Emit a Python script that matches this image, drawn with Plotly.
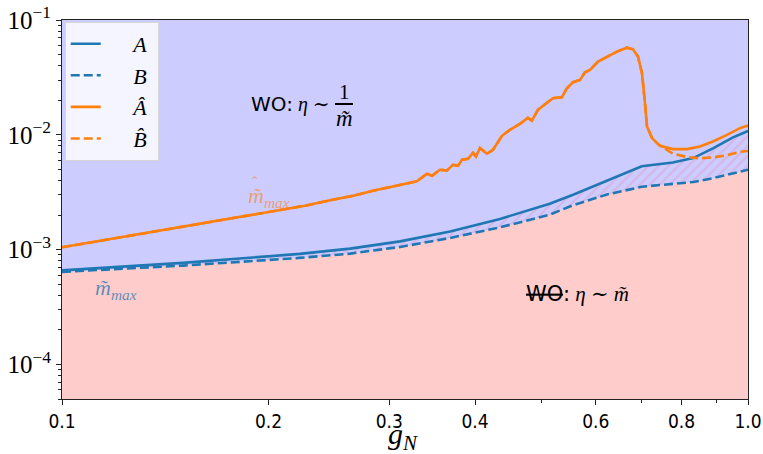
import math
import plotly.graph_objects as go

# ---------------- data ----------------
G_BLUE = [0.10, 0.15, 0.222, 0.263, 0.311, 0.368, 0.435, 0.514, 0.556, 0.623, 0.70, 0.777, 0.832, 0.889, 0.951, 1.0]
A_VALS = [6.6e-4, 7.66e-4, 9.18e-4, 1.02e-3, 1.18e-3, 1.44e-3, 1.85e-3, 2.51e-3, 3.01e-3, 3.96e-3, 5.32e-3, 5.74e-3, 6.27e-3, 7.63e-3, 9.5e-3, 1.08e-2]
B_VALS = [6.4e-4, 7.26e-4, 8.47e-4, 9.23e-4, 1.055e-3, 1.264e-3, 1.563e-3, 2.015e-3, 2.44e-3, 3.02e-3, 3.53e-3, 3.75e-3, 3.88e-3, 4.19e-3, 4.63e-3, 4.96e-3]

G_HAT = [0.100, 0.150, 0.188, 0.226, 0.248, 0.266, 0.284, 0.311, 0.329, 0.3405, 0.3463, 0.3556,
         0.3641, 0.3715, 0.3778, 0.3829, 0.3907, 0.3973, 0.4013, 0.4067, 0.4164, 0.4249, 0.4379,
         0.4498, 0.4650, 0.4777, 0.4841, 0.4940, 0.5093, 0.5196, 0.5355, 0.5445, 0.5557, 0.5690,
         0.5786, 0.5885, 0.6044, 0.6230, 0.6442, 0.6661, 0.6798, 0.6913, 0.7006, 0.7077, 0.7125,
         0.7246, 0.7442, 0.7774, 0.8150, 0.8511, 0.8892, 0.9319, 0.9735, 1.0]
AHAT_VALS = [1.047e-3, 1.588e-3, 2.0e-3, 2.41e-3, 2.72e-3, 2.95e-3, 3.26e-3, 3.67e-3, 3.93e-3, 4.58e-3, 4.40e-3, 4.96e-3,
             4.89e-3, 5.48e-3, 5.37e-3, 6.06e-3, 6.18e-3, 6.97e-3, 6.48e-3, 7.66e-3, 6.84e-3, 7.41e-3, 9.80e-3,
             1.105e-2, 1.246e-2, 1.405e-2, 1.331e-2, 1.65e-2, 1.897e-2, 2.085e-2, 2.127e-2, 2.547e-2, 2.872e-2, 3.007e-2,
             3.51e-2, 3.674e-2, 4.34e-2, 4.80e-2, 5.30e-2, 5.74e-2, 5.56e-2, 4.80e-2, 3.44e-2, 1.886e-2, 1.181e-2,
             9.36e-3, 8.02e-3, 7.51e-3, 7.51e-3, 7.91e-3, 8.74e-3, 1.0e-2, 1.144e-2, 1.205e-2]
N_SHARED = 46  # B-hat coincides with A-hat for the first points
G_BHAT_TAIL = [0.7392, 0.7774, 0.8150, 0.8511, 0.8892, 0.9319, 0.9735, 1.0]
BHAT_TAIL = [8.3e-3, 6.84e-3, 6.40e-3, 6.25e-3, 6.35e-3, 6.64e-3, 7.12e-3, 7.22e-3]
G_BHAT = G_HAT[:N_SHARED] + G_BHAT_TAIL
BHAT_VALS = AHAT_VALS[:N_SHARED] + BHAT_TAIL

X_RANGE = [0.1, 1.0]
Y_RANGE = [5e-5, 1e-1]
XTICKS = [0.1, 0.2, 0.3, 0.4, 0.6, 0.8, 1.0]
XTICKTEXT = ["0.1", "0.2", "0.3", "0.4", "0.6", "0.8", "1.0"]
XMINOR = [0.5, 0.7, 0.9]
YTICKS = [1e-4, 1e-3, 1e-2, 1e-1]
YTICKTEXT = ["10<sup>−4</sup>", "10<sup>−3</sup>", "10<sup>−2</sup>", "10<sup>−1</sup>"]

BLUE = "#1f77b4"
ORANGE = "#ff7f0e"
LAVENDER = "#ccccff"
PINK = "#ffcccc"
SERIF = "Liberation Serif, DejaVu Serif, serif"
NB = "\u00a0"

fig = go.Figure()

# pink region below B (down to the axis floor)
fig.add_trace(go.Scatter(x=G_BLUE, y=[Y_RANGE[0]] * len(G_BLUE), mode="lines",
                         line=dict(width=0), showlegend=False, hoverinfo="skip"))
fig.add_trace(go.Scatter(x=G_BLUE, y=B_VALS, mode="lines", line=dict(width=0),
                         fill="tonexty", fillcolor=PINK, showlegend=False, hoverinfo="skip"))
# hatched band between B and A
fig.add_trace(go.Scatter(x=G_BLUE, y=A_VALS, mode="lines", line=dict(width=0),
                         fill="tonexty", fillcolor=LAVENDER,
                         fillpattern=dict(shape="/", fgcolor="#dc9fcc",
                                          bgcolor=LAVENDER, size=7, solidity=0.3),
                         showlegend=False, hoverinfo="skip"))

# curves
LW = 2.6
fig.add_trace(go.Scatter(x=G_BLUE, y=B_VALS, mode="lines", name=NB * 5 + "<i>B</i>" + NB,
                         line=dict(color=BLUE, width=LW, dash="9px,4px"),
                         legendgroup="b", legendrank=2))
fig.add_trace(go.Scatter(x=G_BLUE, y=A_VALS, mode="lines", name=NB * 5 + "<i>A</i>" + NB,
                         line=dict(color=BLUE, width=LW), legendgroup="a", legendrank=1))
fig.add_trace(go.Scatter(x=G_BHAT, y=BHAT_VALS, mode="lines", name=NB * 5 + "<i>B̂</i>" + NB,
                         line=dict(color=ORANGE, width=LW, dash="9px,4px"),
                         legendgroup="bh", legendrank=4))
fig.add_trace(go.Scatter(x=G_HAT, y=AHAT_VALS, mode="lines", name=NB * 5 + "<i>Â</i>" + NB,
                         line=dict(color=ORANGE, width=LW), legendgroup="ah", legendrank=3))

# ---------------- layout ----------------
L, R, T, B = 62, 15, 20, 55
W, H = 763, 454
PW, PH = W - L - R, H - T - B


def P(px, py):
    return (px - L) / PW, (H - B - py) / PH


annos = []


def add_text(px, py, text, size, color="black", family=SERIF, xanchor="center"):
    x, y = P(px, py)
    annos.append(dict(x=x, y=y, xref="paper", yref="paper", text=text, showarrow=False,
                      xanchor=xanchor, yanchor="middle",
                      font=dict(family=family, size=size, color=color)))


add_text(249, 104, '<span style="font-family:DejaVu Sans">WO:</span> <i>η</i> ∼', 20,
         family=SERIF, xanchor="left")
add_text(344, 92, "1", 21)
add_text(344, 118, "<i>m̃</i>", 23)
add_text(269, 197, "<i>m̃</i><sub><i>max</i></sub>", 22, color="rgba(255,127,14,0.6)")
add_text(255, 182, "ˆ", 16, color="rgba(255,127,14,0.6)")
add_text(116, 289, "<i>m̃</i><sub><i>max</i></sub>", 22, color="rgba(31,119,180,0.75)")
add_text(524, 294, '<span style="font-family:DejaVu Sans"><s>WO</s>:</span> <i>η</i> ∼ <i>m̃</i>', 21,
         family=SERIF, xanchor="left")
add_text(403, 436, "<i>g</i><sub><i>N</i></sub>", 30)

bx0, by = P(335, 104)
bx1, _ = P(353, 104)
shapes = [dict(type="line", xref="paper", yref="paper", x0=bx0, x1=bx1, y0=by, y1=by,
               line=dict(color="black", width=2))]

fig.update_layout(
    width=W, height=H, autosize=False,
    margin=dict(l=L, r=R, t=T, b=B, pad=0, autoexpand=False),
    paper_bgcolor="white", plot_bgcolor=LAVENDER,
    annotations=annos, shapes=shapes,
    legend=dict(x=0.004, y=0.995, xanchor="left", yanchor="top",
                bgcolor="rgba(255,255,255,0.8)", bordercolor="#d6d6d6", borderwidth=1,
                font=dict(family=SERIF, size=22, color="black"),
                tracegroupgap=6, traceorder="normal"),
    xaxis=dict(type="log", range=[math.log10(X_RANGE[0]), math.log10(X_RANGE[1])],
               automargin=False,
               tickmode="array", tickvals=XTICKS, ticktext=XTICKTEXT,
               ticks="outside", ticklen=5, tickcolor="#222",
               minor=dict(tickmode="array", tickvals=XMINOR, ticks="outside", ticklen=3, tickcolor="#222"),
               showgrid=False, zeroline=False, showline=True, mirror=True,
               linecolor="#222", linewidth=1,
               tickfont=dict(family="DejaVu Sans Condensed, DejaVu Sans, sans-serif", size=19, color="black")),
    yaxis=dict(type="log", range=[math.log10(Y_RANGE[0]), math.log10(Y_RANGE[1])],
               automargin=False,
               tickmode="array", tickvals=YTICKS, ticktext=YTICKTEXT,
               ticks="outside", ticklen=5, tickcolor="#222",
               minor=dict(ticks="outside", ticklen=3, tickcolor="#222", dtick="D1"),
               showgrid=False, zeroline=False, showline=True, mirror=True,
               linecolor="#222", linewidth=1,
               tickfont=dict(family=SERIF, size=25, color="black")),
)

fig.write_html("out.html")
